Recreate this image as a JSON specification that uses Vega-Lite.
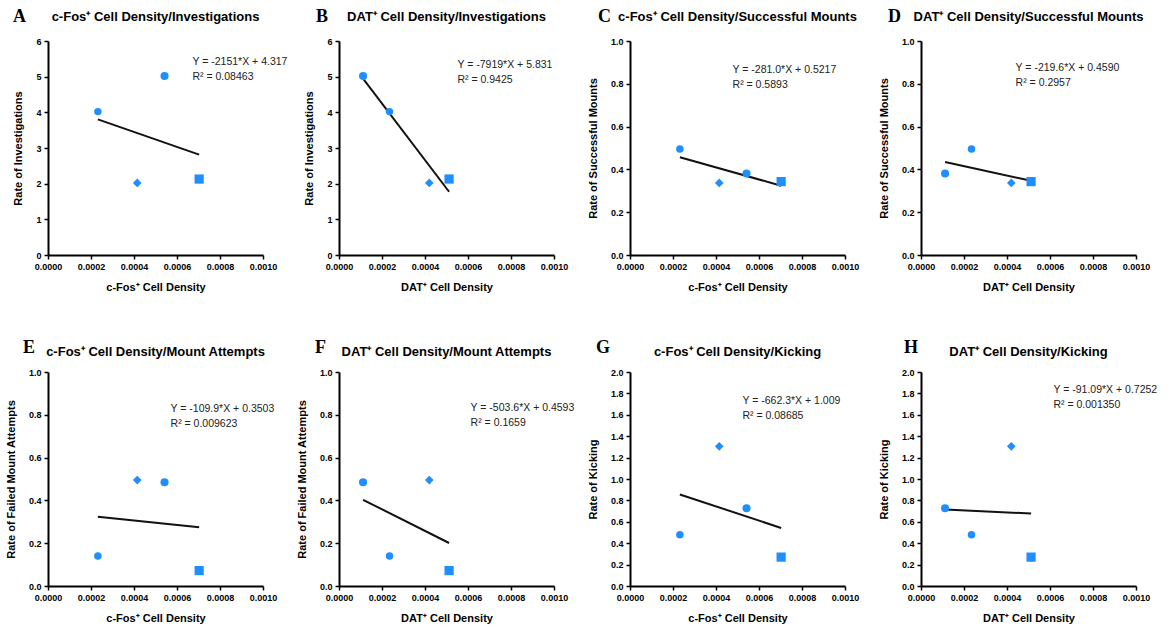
{
  "$schema": "https://vega.github.io/schema/vega-lite/v6.json",
  "padding": {"left": 5, "top": 7, "right": 5, "bottom": 4},
  "background": "white",
  "datasets": {
    "subj": [
      {"id": "S1", "cfos": 0.000232, "dat": 0.000235, "inv": 4.02, "succ": 0.495, "fail": 0.14, "kick": 0.48},
      {"id": "S2", "cfos": 0.000542, "dat": 0.000112, "inv": 5.02, "succ": 0.381, "fail": 0.485, "kick": 0.727},
      {"id": "S3", "cfos": 0.000415, "dat": 0.00042, "inv": 2.02, "succ": 0.337, "fail": 0.495, "kick": 1.305},
      {"id": "S4", "cfos": 0.000703, "dat": 0.000512, "inv": 2.13, "succ": 0.343, "fail": 0.072, "kick": 0.27}
    ]
  },
  "data": {"name": "subj"},
  "columns": 4,
  "spacing": {"row": 117, "column": 76},
  "bounds": "flush",
  "concat": [
    {
      "width": 215, "height": 214,
      "encoding": {
        "x": {"field": "cfos", "type": "quantitative", "scale": {"domain": [0, 0.001], "nice": false}, "axis": {"title": "c-Fos⁺ Cell Density", "values": [0, 0.0002, 0.0004, 0.0006, 0.0008, 0.001], "format": ".4f"}},
        "y": {"field": "inv", "type": "quantitative", "scale": {"domain": [0, 6], "nice": false}, "axis": {"title": "Rate of Investigations", "values": [0, 1, 2, 3, 4, 5, 6], "format": "d"}}
      },
      "layer": [
        {"transform": [{"regression": "inv", "on": "cfos"}], "mark": {"type": "line", "color": "#111111", "strokeWidth": 2}, "encoding": {}},
        {"mark": {"type": "point", "filled": true, "opacity": 1, "color": "#1f8fff"}, "encoding": {
          "shape": {"field": "id", "type": "nominal", "scale": {"domain": ["S1", "S2", "S3", "S4"], "range": ["circle", "circle", "diamond", "square"]}, "legend": null},
          "size": {"field": "id", "type": "ordinal", "scale": {"domain": ["S1", "S2", "S3", "S4"], "range": [56, 85, 50, 64]}, "legend": null}}},
        {"transform": [{"filter": "datum.id == 'S1'"}], "mark": {"type": "text", "align": "left", "baseline": "top", "fontSize": 10.5, "lineHeight": 15, "color": "#222222"}, "encoding": {"x": {"datum": 0.000672}, "y": {"datum": 5.55}, "text": {"value": ["Y = -2151*X + 4.317", "R² = 0.08463"]}}},
        {"transform": [{"filter": "datum.id == 'S1'"}], "mark": {"type": "text", "align": "center", "baseline": "middle", "fontWeight": "bold", "fontSize": 13, "color": "#000000"}, "encoding": {"x": {"datum": 0.0005}, "y": {"datum": 6.673}, "text": {"value": "c-Fos⁺ Cell Density/Investigations"}}},
        {"transform": [{"filter": "datum.id == 'S1'"}], "mark": {"type": "text", "align": "left", "baseline": "middle", "font": "Liberation Serif", "fontWeight": "bold", "fontSize": 18, "color": "#000000"}, "encoding": {"x": {"datum": -0.000163}, "y": {"datum": 6.673}, "text": {"value": "A"}}}
      ]
    },
    {
      "width": 215, "height": 214,
      "encoding": {
        "x": {"field": "dat", "type": "quantitative", "scale": {"domain": [0, 0.001], "nice": false}, "axis": {"title": "DAT⁺ Cell Density", "values": [0, 0.0002, 0.0004, 0.0006, 0.0008, 0.001], "format": ".4f"}},
        "y": {"field": "inv", "type": "quantitative", "scale": {"domain": [0, 6], "nice": false}, "axis": {"title": "Rate of Investigations", "values": [0, 1, 2, 3, 4, 5, 6], "format": "d"}}
      },
      "layer": [
        {"transform": [{"regression": "inv", "on": "dat"}], "mark": {"type": "line", "color": "#111111", "strokeWidth": 2}, "encoding": {}},
        {"mark": {"type": "point", "filled": true, "opacity": 1, "color": "#1f8fff"}, "encoding": {
          "shape": {"field": "id", "type": "nominal", "scale": {"domain": ["S1", "S2", "S3", "S4"], "range": ["circle", "circle", "diamond", "square"]}, "legend": null},
          "size": {"field": "id", "type": "ordinal", "scale": {"domain": ["S1", "S2", "S3", "S4"], "range": [56, 85, 50, 64]}, "legend": null}}},
        {"transform": [{"filter": "datum.id == 'S1'"}], "mark": {"type": "text", "align": "left", "baseline": "top", "fontSize": 10.5, "lineHeight": 15, "color": "#222222"}, "encoding": {"x": {"datum": 0.000551}, "y": {"datum": 5.47}, "text": {"value": ["Y = -7919*X + 5.831", "R² = 0.9425"]}}},
        {"transform": [{"filter": "datum.id == 'S1'"}], "mark": {"type": "text", "align": "center", "baseline": "middle", "fontWeight": "bold", "fontSize": 13, "color": "#000000"}, "encoding": {"x": {"datum": 0.0005}, "y": {"datum": 6.673}, "text": {"value": "DAT⁺ Cell Density/Investigations"}}},
        {"transform": [{"filter": "datum.id == 'S1'"}], "mark": {"type": "text", "align": "left", "baseline": "middle", "font": "Liberation Serif", "fontWeight": "bold", "fontSize": 18, "color": "#000000"}, "encoding": {"x": {"datum": -0.000107}, "y": {"datum": 6.673}, "text": {"value": "B"}}}
      ]
    },
    {
      "width": 215, "height": 214,
      "encoding": {
        "x": {"field": "cfos", "type": "quantitative", "scale": {"domain": [0, 0.001], "nice": false}, "axis": {"title": "c-Fos⁺ Cell Density", "values": [0, 0.0002, 0.0004, 0.0006, 0.0008, 0.001], "format": ".4f"}},
        "y": {"field": "succ", "type": "quantitative", "scale": {"domain": [0, 1], "nice": false}, "axis": {"title": "Rate of Successful Mounts", "values": [0, 0.2, 0.4, 0.6, 0.8, 1], "format": ".1f"}}
      },
      "layer": [
        {"transform": [{"regression": "succ", "on": "cfos"}], "mark": {"type": "line", "color": "#111111", "strokeWidth": 2}, "encoding": {}},
        {"mark": {"type": "point", "filled": true, "opacity": 1, "color": "#1f8fff"}, "encoding": {
          "shape": {"field": "id", "type": "nominal", "scale": {"domain": ["S1", "S2", "S3", "S4"], "range": ["circle", "circle", "diamond", "square"]}, "legend": null},
          "size": {"field": "id", "type": "ordinal", "scale": {"domain": ["S1", "S2", "S3", "S4"], "range": [56, 85, 50, 64]}, "legend": null}}},
        {"transform": [{"filter": "datum.id == 'S1'"}], "mark": {"type": "text", "align": "left", "baseline": "top", "fontSize": 10.5, "lineHeight": 15, "color": "#222222"}, "encoding": {"x": {"datum": 0.000477}, "y": {"datum": 0.888}, "text": {"value": ["Y = -281.0*X + 0.5217", "R² = 0.5893"]}}},
        {"transform": [{"filter": "datum.id == 'S1'"}], "mark": {"type": "text", "align": "center", "baseline": "middle", "fontWeight": "bold", "fontSize": 13, "color": "#000000"}, "encoding": {"x": {"datum": 0.0005}, "y": {"datum": 1.112}, "text": {"value": "c-Fos⁺ Cell Density/Successful Mounts"}}},
        {"transform": [{"filter": "datum.id == 'S1'"}], "mark": {"type": "text", "align": "left", "baseline": "middle", "font": "Liberation Serif", "fontWeight": "bold", "fontSize": 18, "color": "#000000"}, "encoding": {"x": {"datum": -0.000149}, "y": {"datum": 1.112}, "text": {"value": "C"}}}
      ]
    },
    {
      "width": 215, "height": 214,
      "encoding": {
        "x": {"field": "dat", "type": "quantitative", "scale": {"domain": [0, 0.001], "nice": false}, "axis": {"title": "DAT⁺ Cell Density", "values": [0, 0.0002, 0.0004, 0.0006, 0.0008, 0.001], "format": ".4f"}},
        "y": {"field": "succ", "type": "quantitative", "scale": {"domain": [0, 1], "nice": false}, "axis": {"title": "Rate of Successful Mounts", "values": [0, 0.2, 0.4, 0.6, 0.8, 1], "format": ".1f"}}
      },
      "layer": [
        {"transform": [{"regression": "succ", "on": "dat"}], "mark": {"type": "line", "color": "#111111", "strokeWidth": 2}, "encoding": {}},
        {"mark": {"type": "point", "filled": true, "opacity": 1, "color": "#1f8fff"}, "encoding": {
          "shape": {"field": "id", "type": "nominal", "scale": {"domain": ["S1", "S2", "S3", "S4"], "range": ["circle", "circle", "diamond", "square"]}, "legend": null},
          "size": {"field": "id", "type": "ordinal", "scale": {"domain": ["S1", "S2", "S3", "S4"], "range": [56, 85, 50, 64]}, "legend": null}}},
        {"transform": [{"filter": "datum.id == 'S1'"}], "mark": {"type": "text", "align": "left", "baseline": "top", "fontSize": 10.5, "lineHeight": 15, "color": "#222222"}, "encoding": {"x": {"datum": 0.00044}, "y": {"datum": 0.897}, "text": {"value": ["Y = -219.6*X + 0.4590", "R² = 0.2957"]}}},
        {"transform": [{"filter": "datum.id == 'S1'"}], "mark": {"type": "text", "align": "center", "baseline": "middle", "fontWeight": "bold", "fontSize": 13, "color": "#000000"}, "encoding": {"x": {"datum": 0.0005}, "y": {"datum": 1.112}, "text": {"value": "DAT⁺ Cell Density/Successful Mounts"}}},
        {"transform": [{"filter": "datum.id == 'S1'"}], "mark": {"type": "text", "align": "left", "baseline": "middle", "font": "Liberation Serif", "fontWeight": "bold", "fontSize": 18, "color": "#000000"}, "encoding": {"x": {"datum": -0.000153}, "y": {"datum": 1.112}, "text": {"value": "D"}}}
      ]
    },
    {
      "width": 215, "height": 214,
      "encoding": {
        "x": {"field": "cfos", "type": "quantitative", "scale": {"domain": [0, 0.001], "nice": false}, "axis": {"title": "c-Fos⁺ Cell Density", "values": [0, 0.0002, 0.0004, 0.0006, 0.0008, 0.001], "format": ".4f"}},
        "y": {"field": "fail", "type": "quantitative", "scale": {"domain": [0, 1], "nice": false}, "axis": {"title": "Rate of Failed Mount Attempts", "values": [0, 0.2, 0.4, 0.6, 0.8, 1], "format": ".1f"}}
      },
      "layer": [
        {"transform": [{"regression": "fail", "on": "cfos"}], "mark": {"type": "line", "color": "#111111", "strokeWidth": 2}, "encoding": {}},
        {"mark": {"type": "point", "filled": true, "opacity": 1, "color": "#1f8fff"}, "encoding": {
          "shape": {"field": "id", "type": "nominal", "scale": {"domain": ["S1", "S2", "S3", "S4"], "range": ["circle", "circle", "diamond", "square"]}, "legend": null},
          "size": {"field": "id", "type": "ordinal", "scale": {"domain": ["S1", "S2", "S3", "S4"], "range": [56, 85, 50, 64]}, "legend": null}}},
        {"transform": [{"filter": "datum.id == 'S1'"}], "mark": {"type": "text", "align": "left", "baseline": "top", "fontSize": 10.5, "lineHeight": 15, "color": "#222222"}, "encoding": {"x": {"datum": 0.00057}, "y": {"datum": 0.85}, "text": {"value": ["Y = -109.9*X + 0.3503", "R² = 0.009623"]}}},
        {"transform": [{"filter": "datum.id == 'S1'"}], "mark": {"type": "text", "align": "center", "baseline": "middle", "fontWeight": "bold", "fontSize": 13, "color": "#000000"}, "encoding": {"x": {"datum": 0.0005}, "y": {"datum": 1.093}, "text": {"value": "c-Fos⁺ Cell Density/Mount Attempts"}}},
        {"transform": [{"filter": "datum.id == 'S1'"}], "mark": {"type": "text", "align": "left", "baseline": "middle", "font": "Liberation Serif", "fontWeight": "bold", "fontSize": 18, "color": "#000000"}, "encoding": {"x": {"datum": -0.000116}, "y": {"datum": 1.112}, "text": {"value": "E"}}}
      ]
    },
    {
      "width": 215, "height": 214,
      "encoding": {
        "x": {"field": "dat", "type": "quantitative", "scale": {"domain": [0, 0.001], "nice": false}, "axis": {"title": "DAT⁺ Cell Density", "values": [0, 0.0002, 0.0004, 0.0006, 0.0008, 0.001], "format": ".4f"}},
        "y": {"field": "fail", "type": "quantitative", "scale": {"domain": [0, 1], "nice": false}, "axis": {"title": "Rate of Failed Mount Attempts", "values": [0, 0.2, 0.4, 0.6, 0.8, 1], "format": ".1f"}}
      },
      "layer": [
        {"transform": [{"regression": "fail", "on": "dat"}], "mark": {"type": "line", "color": "#111111", "strokeWidth": 2}, "encoding": {}},
        {"mark": {"type": "point", "filled": true, "opacity": 1, "color": "#1f8fff"}, "encoding": {
          "shape": {"field": "id", "type": "nominal", "scale": {"domain": ["S1", "S2", "S3", "S4"], "range": ["circle", "circle", "diamond", "square"]}, "legend": null},
          "size": {"field": "id", "type": "ordinal", "scale": {"domain": ["S1", "S2", "S3", "S4"], "range": [56, 85, 50, 64]}, "legend": null}}},
        {"transform": [{"filter": "datum.id == 'S1'"}], "mark": {"type": "text", "align": "left", "baseline": "top", "fontSize": 10.5, "lineHeight": 15, "color": "#222222"}, "encoding": {"x": {"datum": 0.000612}, "y": {"datum": 0.855}, "text": {"value": ["Y = -503.6*X + 0.4593", "R² = 0.1659"]}}},
        {"transform": [{"filter": "datum.id == 'S1'"}], "mark": {"type": "text", "align": "center", "baseline": "middle", "fontWeight": "bold", "fontSize": 13, "color": "#000000"}, "encoding": {"x": {"datum": 0.0005}, "y": {"datum": 1.093}, "text": {"value": "DAT⁺ Cell Density/Mount Attempts"}}},
        {"transform": [{"filter": "datum.id == 'S1'"}], "mark": {"type": "text", "align": "left", "baseline": "middle", "font": "Liberation Serif", "fontWeight": "bold", "fontSize": 18, "color": "#000000"}, "encoding": {"x": {"datum": -0.000112}, "y": {"datum": 1.112}, "text": {"value": "F"}}}
      ]
    },
    {
      "width": 215, "height": 214,
      "encoding": {
        "x": {"field": "cfos", "type": "quantitative", "scale": {"domain": [0, 0.001], "nice": false}, "axis": {"title": "c-Fos⁺ Cell Density", "values": [0, 0.0002, 0.0004, 0.0006, 0.0008, 0.001], "format": ".4f"}},
        "y": {"field": "kick", "type": "quantitative", "scale": {"domain": [0, 2], "nice": false}, "axis": {"title": "Rate of Kicking", "values": [0, 0.2, 0.4, 0.6, 0.8, 1, 1.2, 1.4, 1.6, 1.8, 2], "format": ".1f"}}
      },
      "layer": [
        {"transform": [{"regression": "kick", "on": "cfos"}], "mark": {"type": "line", "color": "#111111", "strokeWidth": 2}, "encoding": {}},
        {"mark": {"type": "point", "filled": true, "opacity": 1, "color": "#1f8fff"}, "encoding": {
          "shape": {"field": "id", "type": "nominal", "scale": {"domain": ["S1", "S2", "S3", "S4"], "range": ["circle", "circle", "diamond", "square"]}, "legend": null},
          "size": {"field": "id", "type": "ordinal", "scale": {"domain": ["S1", "S2", "S3", "S4"], "range": [56, 85, 50, 64]}, "legend": null}}},
        {"transform": [{"filter": "datum.id == 'S1'"}], "mark": {"type": "text", "align": "left", "baseline": "top", "fontSize": 10.5, "lineHeight": 15, "color": "#222222"}, "encoding": {"x": {"datum": 0.000523}, "y": {"datum": 1.776}, "text": {"value": ["Y = -662.3*X + 1.009", "R² = 0.08685"]}}},
        {"transform": [{"filter": "datum.id == 'S1'"}], "mark": {"type": "text", "align": "center", "baseline": "middle", "fontWeight": "bold", "fontSize": 13, "color": "#000000"}, "encoding": {"x": {"datum": 0.0005}, "y": {"datum": 2.187}, "text": {"value": "c-Fos⁺ Cell Density/Kicking"}}},
        {"transform": [{"filter": "datum.id == 'S1'"}], "mark": {"type": "text", "align": "left", "baseline": "middle", "font": "Liberation Serif", "fontWeight": "bold", "fontSize": 18, "color": "#000000"}, "encoding": {"x": {"datum": -0.000158}, "y": {"datum": 2.224}, "text": {"value": "G"}}}
      ]
    },
    {
      "width": 215, "height": 214,
      "encoding": {
        "x": {"field": "dat", "type": "quantitative", "scale": {"domain": [0, 0.001], "nice": false}, "axis": {"title": "DAT⁺ Cell Density", "values": [0, 0.0002, 0.0004, 0.0006, 0.0008, 0.001], "format": ".4f"}},
        "y": {"field": "kick", "type": "quantitative", "scale": {"domain": [0, 2], "nice": false}, "axis": {"title": "Rate of Kicking", "values": [0, 0.2, 0.4, 0.6, 0.8, 1, 1.2, 1.4, 1.6, 1.8, 2], "format": ".1f"}}
      },
      "layer": [
        {"transform": [{"regression": "kick", "on": "dat"}], "mark": {"type": "line", "color": "#111111", "strokeWidth": 2}, "encoding": {}},
        {"mark": {"type": "point", "filled": true, "opacity": 1, "color": "#1f8fff"}, "encoding": {
          "shape": {"field": "id", "type": "nominal", "scale": {"domain": ["S1", "S2", "S3", "S4"], "range": ["circle", "circle", "diamond", "square"]}, "legend": null},
          "size": {"field": "id", "type": "ordinal", "scale": {"domain": ["S1", "S2", "S3", "S4"], "range": [56, 85, 50, 64]}, "legend": null}}},
        {"transform": [{"filter": "datum.id == 'S1'"}], "mark": {"type": "text", "align": "left", "baseline": "top", "fontSize": 10.5, "lineHeight": 15, "color": "#222222"}, "encoding": {"x": {"datum": 0.000616}, "y": {"datum": 1.879}, "text": {"value": ["Y = -91.09*X + 0.7252", "R² = 0.001350"]}}},
        {"transform": [{"filter": "datum.id == 'S1'"}], "mark": {"type": "text", "align": "center", "baseline": "middle", "fontWeight": "bold", "fontSize": 13, "color": "#000000"}, "encoding": {"x": {"datum": 0.0005}, "y": {"datum": 2.187}, "text": {"value": "DAT⁺ Cell Density/Kicking"}}},
        {"transform": [{"filter": "datum.id == 'S1'"}], "mark": {"type": "text", "align": "left", "baseline": "middle", "font": "Liberation Serif", "fontWeight": "bold", "fontSize": 18, "color": "#000000"}, "encoding": {"x": {"datum": -0.000079}, "y": {"datum": 2.224}, "text": {"value": "H"}}}
      ]
    }
  ],
  "config": {
    "view": {"stroke": null},
    "font": "Liberation Sans",
    "axis": {"domainColor": "#000000", "domainWidth": 2, "tickColor": "#000000", "tickWidth": 1.5, "tickSize": 4, "labelFont": "Liberation Sans", "labelFontWeight": "bold", "labelFontSize": 9, "labelColor": "#000000", "titleFont": "Liberation Sans", "titleFontWeight": "bold", "titleFontSize": 11, "titleColor": "#000000", "grid": false, "labelPadding": 3},
    "axisX": {"titlePadding": 10, "labelFlush": false},
    "axisY": {"titlePadding": 12},
    "text": {"font": "Liberation Sans"}
  }
}
